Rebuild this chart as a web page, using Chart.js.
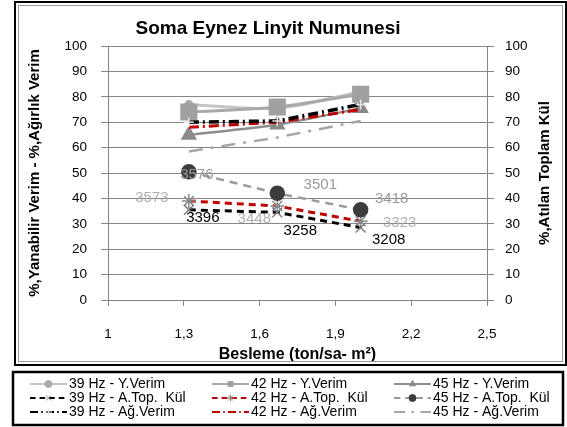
<!DOCTYPE html>
<html><head><meta charset="utf-8">
<script src="https://cdn.jsdelivr.net/npm/chart.js@4.4.0/dist/chart.umd.min.js"></script>
<style>html,body{margin:0;padding:0;background:#fff;overflow:hidden}#wrap{width:567px;height:427px}</style>
</head><body><div id="wrap"><canvas id="c" width="567" height="427"></canvas></div>
<script>
const chartTitle = 'Soma Eynez Linyit Numunesi';
const xTitle = 'Besleme (ton/sa- m²)';
const yTitle = '%,Yanabilir Verim - %,Ağırlık Verim';
const y2Title = '%,Atılan Toplam Kül';

const feedRates = [1.32, 1.67, 2.0];
const xTickValues = [1, 1.3, 1.6, 1.9, 2.2, 2.5];
const xTickLabels = ['1', '1,3', '1,6', '1,9', '2,2', '2,5'];

const seriesNames = [
  '39 Hz - Y.Verim', '42 Hz - Y.Verim', '45 Hz - Y.Verim',
  '39 Hz - A.Top.  Kül', '42 Hz - A.Top.  Kül', '45 Hz - A.Top.  Kül',
  '39 Hz - Ağ.Verim', '42 Hz - Ağ.Verim', '45 Hz - Ağ.Verim'
];
const yVerim39 = [77, 75.5, 82];
const yVerim42 = [74, 76, 81];
const yVerim45 = [65, 69, 75.5];
const topKul39 = [35.5, 34.5, 28.5];
const topKul42 = [39, 37, 31];
const topKul45 = [50.5, 42, 35.5];
const agVerim39 = [70, 70.5, 77];
const agVerim42 = [68, 70, 75];
const agVerim45 = [58.5, 64, 70.5];

const pointLabels39 = ['3396', '3258', '3208'];
const pointLabels42 = ['3573', '3448', '3323'];
const pointLabels45 = ['3576', '3501', '3418'];

const FONT = "'Liberation Sans', Arial, sans-serif";
const GRID = '#868686';

function series(idx, values, axis, style) {
  return Object.assign({
    label: seriesNames[idx],
    data: feedRates.map((x, i) => ({ x: x, y: values[i] })),
    yAxisID: axis,
    fill: false
  }, style);
}

const datasets = [
  series(0, yVerim39, 'y', { borderColor: '#c4c4c4', borderWidth: 3, tension: 0.3, pointStyle: 'circle', pointRadius: 3, pointBackgroundColor: '#a8a8a8', pointBorderColor: '#a8a8a8', order: 6 }),
  series(1, yVerim42, 'y', { borderColor: '#a9a9a9', borderWidth: 3, tension: 0.3, pointStyle: 'rect', pointRadius: 10, pointBackgroundColor: '#a0a0a0', pointBorderColor: '#a0a0a0', order: 5 }),
  series(2, yVerim45, 'y', { borderColor: '#8e8e8e', borderWidth: 2.5, tension: 0.2, pointStyle: 'triangle', pointRadius: 7, pointBackgroundColor: '#8a8a8a', pointBorderColor: '#8a8a8a', order: 7 }),
  series(3, topKul39, 'y2', { borderColor: '#000000', borderWidth: 3, borderDash: [7, 5], pointStyle: 'crossRot', pointRadius: 7, pointBorderColor: '#808080', pointBorderWidth: 1.5, order: 2 }),
  series(4, topKul42, 'y2', { borderColor: '#c00000', borderWidth: 3, borderDash: [7, 5], pointStyle: 'star', pointRadius: 7, pointBorderColor: '#8a8a8a', pointBorderWidth: 1.5, order: 3 }),
  series(5, topKul45, 'y2', { borderColor: '#9a9a9a', borderWidth: 2.5, borderDash: [8, 6], pointStyle: 'circle', pointRadius: 6.5, pointBackgroundColor: '#3c3c3c', pointBorderColor: '#3c3c3c', order: 1 }),
  series(6, agVerim39, 'y', { borderColor: '#000000', borderWidth: 3.5, borderDash: [10, 4, 2, 4], pointStyle: 'cross', pointRadius: 5, pointBorderColor: '#e6e6e6', pointBorderWidth: 1.5, order: 4 }),
  series(7, agVerim42, 'y', { borderColor: '#c00000', borderWidth: 3, borderDash: [10, 4, 2, 4], pointRadius: 0, order: 4 }),
  series(8, agVerim45, 'y', { borderColor: '#a6a6a6', borderWidth: 2.5, borderDash: [14, 8, 3, 8], pointRadius: 0, order: 8 })
];

const labelSets = [
  { ds: 3, texts: pointLabels39, color: '#000000', offsets: [[14, 8], [23, 18], [28, 12]] },
  { ds: 4, texts: pointLabels42, color: '#b0b0b0', offsets: [[-37, -3], [-23, 13], [39, 2]] },
  { ds: 5, texts: pointLabels45, color: '#9a9a9a', offsets: [[8, 3], [43, -8], [31, -11]] }
];

const decor = {
  id: 'decor',
  beforeDraw(chart) {
    const ctx = chart.ctx;
    ctx.save();
    ctx.fillStyle = '#fff';
    ctx.fillRect(0, 0, chart.width, chart.height);
    ctx.restore();
  },
  afterDraw(chart) {
    const ctx = chart.ctx;
    const ca = chart.chartArea;
    ctx.save();
    ctx.fillStyle = '#000';
    ctx.font = 'bold 19px ' + FONT;
    ctx.textAlign = 'center';
    ctx.textBaseline = 'middle';
    ctx.fillText(chartTitle, 268, 29);
    ctx.save();
    ctx.translate(545, (ca.top + ca.bottom) / 2);
    ctx.rotate(-Math.PI / 2);
    ctx.font = 'bold 15px ' + FONT;
    ctx.fillText(y2Title, 0, 0);
    ctx.restore();
    ctx.font = '15px ' + FONT;
    labelSets.forEach(ls => {
      const meta = chart.getDatasetMeta(ls.ds);
      ctx.fillStyle = ls.color;
      meta.data.forEach((pt, j) => {
        ctx.fillText(ls.texts[j], pt.x + ls.offsets[j][0], pt.y + ls.offsets[j][1]);
      });
    });
    ctx.setLineDash([]);
    ctx.strokeStyle = '#000';
    ctx.lineWidth = 2;
    ctx.strokeRect(15, 2, 551, 363);
    ctx.strokeStyle = '#9a9a9a';
    ctx.lineWidth = 1;
    ctx.strokeRect(18.5, 5.5, 544, 356);
    ctx.strokeStyle = '#000';
    ctx.lineWidth = 2.5;
    ctx.strokeRect(13, 372, 550, 53);
    const colX = [30, 212, 394];
    const rowY = [384, 398, 412];
    ctx.font = '14px ' + FONT;
    ctx.textAlign = 'left';
    ctx.textBaseline = 'middle';
    chart.data.datasets.forEach((ds, i) => {
      const x = colX[i % 3], y = rowY[Math.floor(i / 3)];
      ctx.save();
      ctx.strokeStyle = ds.borderColor;
      ctx.lineWidth = Math.min(2, ds.borderWidth);
      ctx.setLineDash(ds.borderDash ? ds.borderDash.map(v => v * 0.8) : []);
      ctx.beginPath();
      ctx.moveTo(x, y);
      ctx.lineTo(x + 37, y);
      ctx.stroke();
      ctx.setLineDash([]);
      if (ds.pointRadius > 0) {
        ctx.fillStyle = ds.pointBackgroundColor || ds.borderColor;
        ctx.strokeStyle = ds.pointBorderColor || ds.borderColor;
        ctx.lineWidth = 1;
        Chart.helpers.drawPoint(ctx, { pointStyle: ds.pointStyle, radius: 3.5, rotation: 0, borderWidth: 1 }, x + 18.5, y);
      }
      ctx.restore();
      ctx.fillStyle = '#000';
      ctx.fillText(ds.label, x + 39, y);
    });
    ctx.restore();
  }
};

new Chart(document.getElementById('c'), {
  type: 'line',
  data: { datasets: datasets },
  plugins: [decor],
  options: {
    responsive: false,
    animation: false,
    devicePixelRatio: 1,
    layout: { padding: { left: 20, right: 0, top: 46, bottom: 57 } },
    plugins: { legend: { display: false }, title: { display: false }, tooltip: { enabled: false } },
    scales: {
      x: {
        type: 'linear', position: 'bottom', min: 1, max: 2.5,
        afterBuildTicks: s => { s.ticks = xTickValues.map(v => ({ value: v })); },
        afterFit: s => { s.height = 70; },
        grid: { drawOnChartArea: false, drawTicks: true, tickLength: 6, color: GRID },
        border: { color: GRID, width: 1 },
        ticks: { callback: (v, i) => xTickLabels[i], autoSkip: false, maxRotation: 0, padding: 20, color: '#000', font: { family: FONT, size: 13.5 } },
        title: { display: true, text: xTitle, color: '#000', font: { family: FONT, size: 16, weight: 'bold' }, padding: { top: 0, bottom: 6 } }
      },
      y: {
        position: 'left', min: 0, max: 100,
        afterFit: s => { s.width = 88; },
        grid: { color: GRID, tickLength: 7 },
        border: { color: GRID, width: 1 },
        ticks: { stepSize: 10, padding: 14, color: '#000', font: { family: FONT, size: 13.5 } },
        title: { display: true, text: yTitle, color: '#000', font: { family: FONT, size: 15, weight: 'bold' }, padding: { top: 6, bottom: 0 } }
      },
      y2: {
        position: 'right', min: 0, max: 100,
        afterFit: s => { s.width = 80; },
        grid: { drawOnChartArea: false, color: GRID, tickLength: 7 },
        border: { color: GRID, width: 1 },
        ticks: { stepSize: 10, padding: 11, color: '#000', font: { family: FONT, size: 13.5 } }
      }
    }
  }
});
</script>
</body></html>
